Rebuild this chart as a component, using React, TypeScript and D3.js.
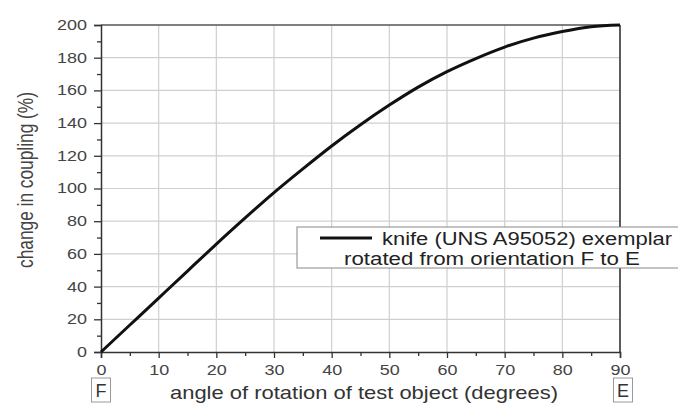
import React, { useEffect, useRef } from "react";
import * as d3 from "d3";

// angle of rotation (degrees) and change in coupling (%)
const angles = [0, 5, 10, 15, 20, 25, 30, 35, 40, 45, 50, 55, 60, 65, 70, 75, 80, 85, 90];
const coupling = [0, 16.5, 33, 49.5, 66, 82, 97.5, 112, 126, 139, 151, 162, 171.5, 179.5, 186.5, 192, 196, 199, 200];
const xTicks = [0, 10, 20, 30, 40, 50, 60, 70, 80, 90];
const yTicks = [0, 20, 40, 60, 80, 100, 120, 140, 160, 180, 200];
const legendLines = ["knife (UNS A95052) exemplar", "rotated from orientation F to E"];
const endLabels = ["F", "E"];

const App = () => {
    const chartRef = useRef<SVGSVGElement | null>(null);

    useEffect(() => {
        const width = 678;
        const height = 403;
        const svg = d3.select(chartRef.current);
        svg.selectAll("*").remove();
        svg.attr("width", width).attr("height", height);

        const x = d3.scaleLinear().domain([0, 90]).range([101, 620]);
        const y = d3.scaleLinear().domain([0, 200]).range([352, 25]);
        const font = "Liberation Sans, Arial, sans-serif";

        svg.append("rect").attr("width", width).attr("height", height).attr("fill", "#fff");

        // grid
        svg.append("g").selectAll("line").data(xTicks.slice(1, -1)).enter().append("line")
            .attr("x1", d => x(d)).attr("x2", d => x(d)).attr("y1", y(0)).attr("y2", y(200))
            .attr("stroke", "#cfcfcf").attr("stroke-width", 1.2);
        svg.append("g").selectAll("line").data(yTicks.slice(1, -1)).enter().append("line")
            .attr("x1", x(0)).attr("x2", x(90)).attr("y1", d => y(d)).attr("y2", d => y(d))
            .attr("stroke", "#cfcfcf").attr("stroke-width", 1.2);

        // frame top/right
        svg.append("line").attr("x1", x(0)).attr("x2", x(90)).attr("y1", y(200)).attr("y2", y(200))
            .attr("stroke", "#555").attr("stroke-width", 1.3);
        svg.append("line").attr("x1", x(90)).attr("x2", x(90)).attr("y1", y(0)).attr("y2", y(200))
            .attr("stroke", "#333").attr("stroke-width", 1.6);

        // axes
        const xAxis = svg.append("g").attr("transform", `translate(0,${y(0)})`)
            .call(d3.axisBottom(x).tickValues(xTicks).tickSize(6).tickPadding(7).tickFormat(d3.format("d")));
        svg.append("g").attr("transform", `translate(0,${y(0)})`)
            .call(d3.axisBottom(x).tickValues(d3.range(5, 90, 10)).tickSize(4).tickFormat(() => ""))
            .call(g => g.select(".domain").remove());
        const yAxis = svg.append("g").attr("transform", `translate(${x(0)},0)`)
            .call(d3.axisLeft(y).tickValues(yTicks).tickSize(7).tickPadding(7).tickFormat(d3.format("d")));
        svg.append("g").attr("transform", `translate(${x(0)},0)`)
            .call(d3.axisLeft(y).tickValues(d3.range(10, 200, 20)).tickSize(4).tickFormat(() => ""))
            .call(g => g.select(".domain").remove());

        [xAxis, yAxis].forEach(g => {
            g.selectAll("path, line").attr("stroke", "#333").attr("stroke-width", 1.5);
            g.selectAll("text").attr("font-family", font).attr("font-size", 14).attr("fill", "#444")
                .attr("lengthAdjust", "spacingAndGlyphs")
                .attr("textLength", function () { return (d3.select(this).text().length * 10); });
        });
        svg.selectAll(".tick line").attr("stroke", "#333").attr("stroke-width", 1.3);

        // curve
        const line = d3.line<number>()
            .x((d, i) => x(angles[i]))
            .y(d => y(d))
            .curve(d3.curveNatural);
        svg.append("path").datum(coupling).attr("d", line)
            .attr("fill", "none").attr("stroke", "#111").attr("stroke-width", 3);

        // axis titles
        svg.append("text").attr("transform", `translate(33,180) rotate(-90) scale(1,1.3)`)
            .attr("text-anchor", "middle").attr("font-family", font).attr("font-size", 17)
            .attr("textLength", 176).attr("lengthAdjust", "spacingAndGlyphs")
            .attr("fill", "#444").text("change in coupling (%)");
        svg.append("text").attr("x", 170).attr("y", 399)
            .attr("font-family", font).attr("font-size", 18.5)
            .attr("textLength", 388).attr("lengthAdjust", "spacingAndGlyphs")
            .attr("fill", "#333").text("angle of rotation of test object (degrees)");

        // F / E boxes
        endLabels.forEach((t, i) => {
            const cx = i === 0 ? x(0) : x(90) + 3;
            svg.append("rect").attr("x", cx - 9.5).attr("y", 378).attr("width", 19).attr("height", 24)
                .attr("fill", "#fff").attr("stroke", "#999").attr("stroke-width", 1);
            svg.append("text").attr("x", cx).attr("y", 397).attr("text-anchor", "middle")
                .attr("font-family", font).attr("font-size", 18).attr("fill", "#333").text(t);
        });

        // legend
        svg.append("rect").attr("x", 297).attr("y", 227).attr("width", 390).attr("height", 41)
            .attr("fill", "#fff").attr("stroke", "#888").attr("stroke-width", 1);
        svg.append("line").attr("x1", 320).attr("x2", 372).attr("y1", 238).attr("y2", 238)
            .attr("stroke", "#111").attr("stroke-width", 3);
        svg.append("text").attr("x", 382).attr("y", 245).attr("font-family", font).attr("font-size", 17.5)
            .attr("textLength", 290).attr("lengthAdjust", "spacingAndGlyphs")
            .attr("fill", "#222").text(legendLines[0]);
        svg.append("text").attr("x", 344).attr("y", 264.5).attr("font-family", font).attr("font-size", 17.5)
            .attr("textLength", 296).attr("lengthAdjust", "spacingAndGlyphs")
            .attr("fill", "#222").text(legendLines[1]);
    }, []);

    return <svg ref={chartRef} style={{ position: "absolute", left: 0, top: 0 }}></svg>;
};

export default App;
